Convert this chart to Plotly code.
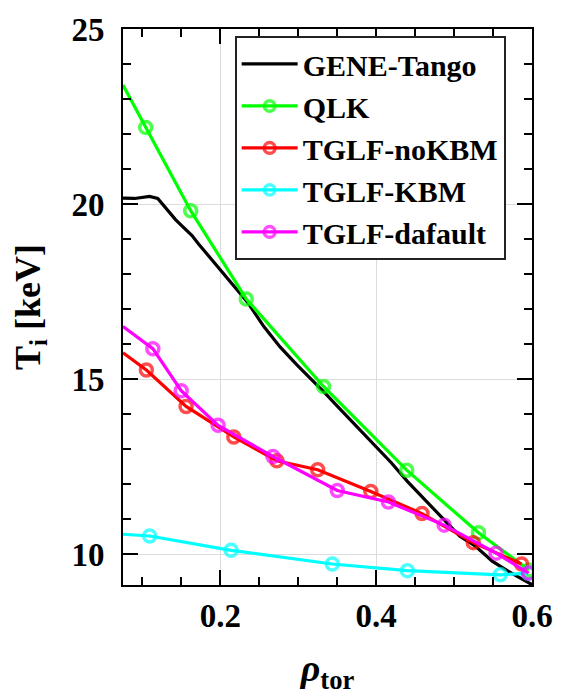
import plotly.graph_objects as go

# ---- data ----
rho_gene = [0.075, 0.090, 0.109, 0.1196, 0.1427, 0.1636, 0.172, 0.193, 0.2138, 0.2348,
            0.2558, 0.2766, 0.2976, 0.3186, 0.3353, 0.3479, 0.373, 0.398, 0.4191, 0.44,
            0.4651, 0.4861, 0.507, 0.5279, 0.5489, 0.5698, 0.595, 0.6]
Ti_gene = [20.17, 20.16, 20.22, 20.16, 19.55, 19.10, 18.86, 18.30, 17.75, 17.20,
           16.50, 15.92, 15.42, 14.96, 14.58, 14.28, 13.70, 13.12, 12.62, 12.08,
           11.50, 11.00, 10.52, 10.22, 9.80, 9.51, 9.18, 9.13]

rho_qlk = [0.075, 0.1041, 0.1619, 0.2332, 0.3324, 0.4392, 0.5313, 0.596]
Ti_qlk = [23.40, 22.19, 19.81, 17.29, 14.79, 12.40, 10.61, 9.55]

rho_nokbm = [0.075, 0.105, 0.156, 0.2172, 0.2725, 0.3249, 0.3931, 0.4588, 0.5246, 0.5866]
Ti_nokbm = [15.75, 15.26, 14.22, 13.35, 12.67, 12.41, 11.79, 11.16, 10.33, 9.72]

rho_kbm = [0.075, 0.1092, 0.2138, 0.3437, 0.44, 0.5593, 0.595]
Ti_kbm = [10.57, 10.52, 10.11, 9.72, 9.53, 9.41, 9.46]

rho_def = [0.075, 0.1133, 0.1497, 0.1971, 0.2675, 0.35, 0.4157, 0.4873, 0.5539, 0.5957]
Ti_def = [16.50, 15.87, 14.67, 13.68, 12.79, 11.82, 11.49, 10.83, 10.03, 9.46]

series_names = ["GENE-Tango", "QLK", "TGLF-noKBM", "TGLF-KBM", "TGLF-dafault"]
series_colors = ["#000000", "#00ff00", "#ff0000", "#00ffff", "#ff00ff"]

x_ticks = [0.2, 0.4, 0.6]
x_ticktext = ["<b>0.2</b>", "<b>0.4</b>", "<b>0.6</b>"]
y_ticks = [10, 15, 20, 25]
y_ticktext = ["<b>10</b>", "<b>15</b>", "<b>20</b>", "<b>25</b>"]

FONT = "Times New Roman"

fig = go.Figure()

fig.add_trace(go.Scatter(
    x=rho_gene, y=Ti_gene, name="<b>" + series_names[0] + "</b>", mode="lines",
    line=dict(color=series_colors[0], width=3.2)))


def add_markers(name, x, y, color):
    sizes = [0] + [12] * (len(x) - 1)
    fig.add_trace(go.Scatter(
        x=x, y=y, name="<b>" + name + "</b>", mode="lines+markers",
        line=dict(color=color, width=3.2),
        marker=dict(symbol="circle-open", size=sizes, color=color,
                    line=dict(width=3.5, color=color))))


add_markers(series_names[1], rho_qlk, Ti_qlk, series_colors[1])
add_markers(series_names[2], rho_nokbm, Ti_nokbm, series_colors[2])
add_markers(series_names[3], rho_kbm, Ti_kbm, series_colors[3])
add_markers(series_names[4], rho_def, Ti_def, series_colors[4])

fig.update_layout(
    width=565, height=700,
    margin=dict(l=123, r=24, t=24, b=115),
    paper_bgcolor="white", plot_bgcolor="white",
    font=dict(family=FONT, color="black"),
    showlegend=True,
)
fig.update_xaxes(
    range=[0.075, 0.6], tickvals=x_ticks, ticktext=x_ticktext,
    ticks="inside", ticklen=15, tickwidth=2, tickcolor="black",
    showline=True, linewidth=2, linecolor="black", mirror="ticks",
    showgrid=True, gridcolor="#dcdcdc", gridwidth=1.3, zeroline=False,
    minor=dict(ticks="inside", ticklen=8, tickwidth=1.5, tickcolor="black",
               dtick=0.05, tick0=0, showgrid=False),
    tickfont=dict(family=FONT, size=33, color="black"),
    title=dict(text="<b><i>ρ</i><sub>tor</sub></b>",
               font=dict(family=FONT, size=38, color="black"), standoff=22),
)
fig.update_yaxes(
    range=[9.12, 25], tickvals=y_ticks, ticktext=y_ticktext,
    ticks="inside", ticklen=15, tickwidth=2, tickcolor="black",
    showline=True, linewidth=2, linecolor="black", mirror="ticks",
    showgrid=True, gridcolor="#dcdcdc", gridwidth=1.3, zeroline=False,
    minor=dict(ticks="inside", ticklen=8, tickwidth=1.5, tickcolor="black",
               dtick=1, tick0=0, showgrid=False),
    tickfont=dict(family=FONT, size=33, color="black"),
    ticklabelstandoff=10,
    title=dict(text="<b>T<sub>i</sub> [keV]</b>",
               font=dict(family=FONT, size=36, color="black"), standoff=20),
)
fig.update_layout(
    legend=dict(
        x=0.273, y=0.9875, xanchor="left", yanchor="top",
        bgcolor="white", bordercolor="#222222", borderwidth=2,
        font=dict(family=FONT, size=30, color="black"),
        itemwidth=56, tracegroupgap=0),
)

# make sure every text of the figure is painted in the serif face
post = """
(function(){
  var gd = document.getElementById('{plot_id}');
  function fix(){
    var els = gd.querySelectorAll('text, tspan');
    for (var i = 0; i < els.length; i++) {
      els[i].style.setProperty('font-family', '"Liberation Serif", "Times New Roman", serif', 'important');
    }
  }
  fix();
  if (gd.on) { gd.on('plotly_afterplot', fix); }
  setTimeout(fix, 30);
  setTimeout(fix, 200);
})();
"""
fig.write_html("out.html", post_script=post)
